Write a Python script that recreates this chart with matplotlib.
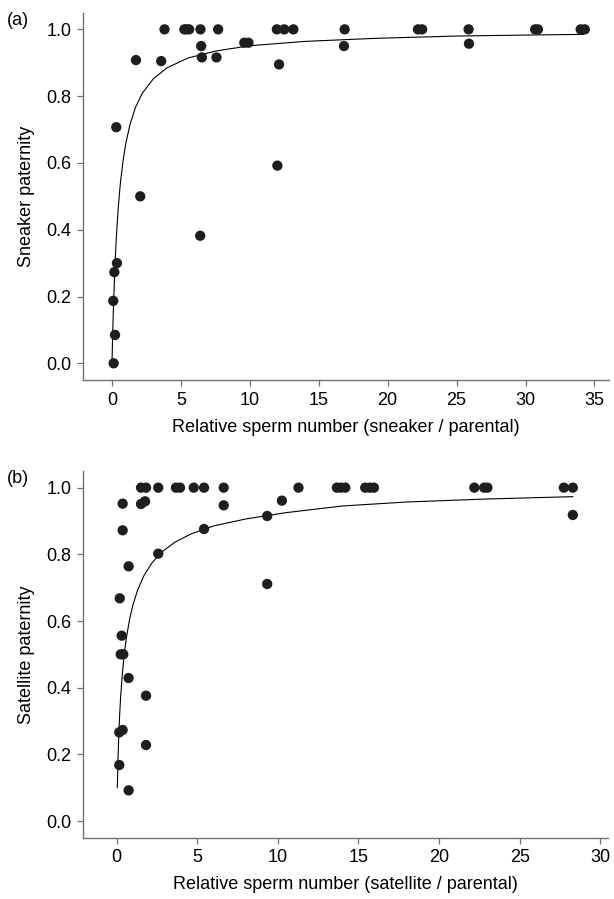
import matplotlib.pyplot as plt

plt.rcParams['font.family'] = ['Liberation Sans', 'DejaVu Sans']

# (a) sneaker data
sneaker_x = [3.81, 5.25, 5.4, 5.6, 6.42, 7.7, 11.96, 12.5, 13.16, 16.88, 22.2, 22.5,
             25.87, 30.7, 30.9, 34.0, 34.3,
             6.47, 9.6, 9.9, 1.74, 3.57, 6.52, 7.58, 12.12, 16.83, 25.9,
             0.31, 12.0, 2.05, 6.4, 0.36, 0.17, 0.09, 0.22, 0.12]
sneaker_y = [1.0, 1.0, 1.0, 1.0, 1.0, 1.0, 1.0, 1.0, 1.0, 1.0, 1.0, 1.0,
             1.0, 1.0, 1.0, 1.0, 1.0,
             0.95, 0.96, 0.96, 0.908, 0.905, 0.916, 0.916, 0.895, 0.95, 0.957,
             0.707, 0.592, 0.50, 0.382, 0.30, 0.273, 0.187, 0.085, 0.0]
# fitted curve
fit_a_x = [0, 0.05, 0.1, 0.2, 0.3, 0.45, 0.6, 0.8, 1.0, 1.3, 1.7, 2.2, 3, 4, 5.5,
           7.5, 10, 14, 19, 25, 30, 34.2]
fit_a_y = [0, 0.088, 0.161, 0.278, 0.366, 0.464, 0.536, 0.606, 0.658, 0.714, 0.766,
           0.809, 0.852, 0.885, 0.914, 0.935, 0.951, 0.964, 0.973, 0.980, 0.983, 0.985]

# (b) satellite data
satellite_x = [1.51, 1.82, 2.58, 3.68, 3.93, 4.78, 5.42, 6.64, 11.28, 13.66, 13.9,
               14.18, 15.42, 15.7, 15.96, 22.19, 22.8, 23.0, 27.74, 28.3,
               0.37, 1.51, 1.76, 6.64, 10.25, 0.37, 9.34, 5.42, 2.58, 0.74, 9.34,
               0.19, 0.31, 0.25, 0.41, 0.74, 1.82, 0.16, 0.37, 1.82, 0.16, 0.74, 28.3]
satellite_y = [1.0, 1.0, 1.0, 1.0, 1.0, 1.0, 1.0, 1.0, 1.0, 1.0, 1.0,
               1.0, 1.0, 1.0, 1.0, 1.0, 1.0, 1.0, 1.0, 1.0,
               0.952, 0.951, 0.959, 0.947, 0.961, 0.872, 0.915, 0.876, 0.802, 0.764, 0.711,
               0.668, 0.556, 0.50, 0.50, 0.429, 0.376, 0.266, 0.273, 0.228, 0.168, 0.092, 0.918]
fit_b_x = [0.04, 0.08, 0.12, 0.18, 0.25, 0.35, 0.47, 0.6, 0.8, 1.0, 1.3, 1.7, 2.2,
           2.8, 3.6, 4.6, 6, 8, 10.5, 14, 18, 23, 28.3]
fit_b_y = [0.10, 0.18, 0.245, 0.315, 0.376, 0.441, 0.5, 0.549, 0.605, 0.647, 0.693,
           0.737, 0.775, 0.807, 0.836, 0.861, 0.885, 0.906, 0.925, 0.945, 0.957, 0.966, 0.973]

panels = [
    ('(a)', sneaker_x, sneaker_y, fit_a_x, fit_a_y, (-2.08, 36.05), range(0, 36, 5),
     'Relative sperm number (sneaker / parental)', 'Sneaker paternity',
     [0.1357, 0.5773, 0.856, 0.4086]),
    ('(b)', satellite_x, satellite_y, fit_b_x, fit_b_y, (-2.07, 30.5), range(0, 31, 5),
     'Relative sperm number (satellite / parental)', 'Satellite paternity',
     [0.1357, 0.0682, 0.855, 0.4079]),
]

fs = 13
fig = plt.figure(figsize=(6.14, 8.99), dpi=100)
for tag, xs, ys, fx, fy, xlim, xt, xlab, ylab, rect in panels:
    ax = fig.add_axes(rect)
    ax.plot(fx, fy, color='black', lw=0.8, zorder=2)
    ax.scatter(xs, ys, s=55, color='#1e1e1e', edgecolors='none', zorder=3)
    ax.set_xlim(*xlim)
    ax.set_ylim(-0.05, 1.05)
    ax.set_xticks(list(xt))
    ax.set_yticks([0.0, 0.2, 0.4, 0.6, 0.8, 1.0])
    ax.set_yticklabels(['0.0', '0.2', '0.4', '0.6', '0.8', '1.0'])
    for s in ['top', 'right']:
        ax.spines[s].set_visible(False)
    for s in ['left', 'bottom']:
        ax.spines[s].set_color('#707070')
        ax.spines[s].set_linewidth(1.0)
    ax.tick_params(length=4, width=0.9, color='#707070', labelsize=fs, pad=4.5)
    ax.set_xlabel(xlab, fontsize=fs, labelpad=7)
    ax.set_ylabel(ylab, fontsize=fs, labelpad=8)
    fig.text(0.012, rect[1] + rect[3] + 0.001, tag, fontsize=fs, va='top', ha='left')

plt.savefig('out.png', dpi=100)
